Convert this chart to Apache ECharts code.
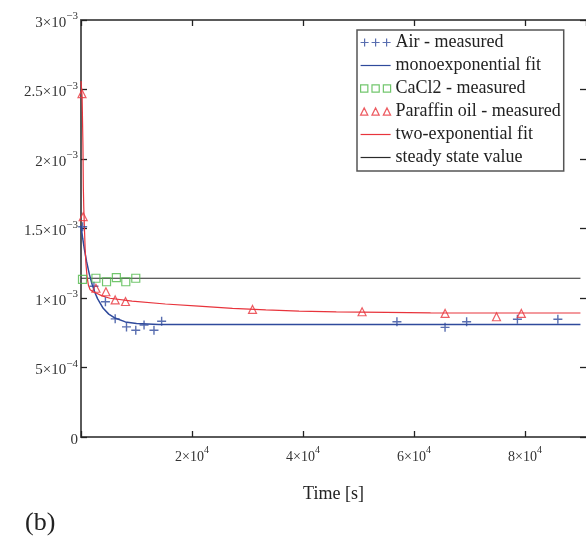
<!DOCTYPE html>
<html>
<head>
<meta charset="utf-8">
<script src="https://cdn.jsdelivr.net/npm/echarts@6/dist/echarts.min.js"></script>
<style>html,body{margin:0;padding:0;background:#fff;}#c{width:586px;height:537px;}</style>
</head>
<body>
<div id="c"></div>
<script>
// ---- data ----
const airT = [300, 2330, 4400, 6160, 8200, 9870, 11360, 13150, 14530, 56930, 65600, 69490, 78640, 85930];
const airV = [1.513e-3, 1.085e-3, 0.973e-3, 0.850e-3, 0.792e-3, 0.768e-3, 0.806e-3, 0.768e-3, 0.833e-3, 0.829e-3, 0.789e-3, 0.829e-3, 0.847e-3, 0.847e-3];

const monoT = [0, 300, 600, 1000, 1500, 2000, 2500, 3000, 4000, 5000, 6000, 8000, 10000, 14000, 20000, 90000];
const monoV = [1.52e-3, 1.43e-3, 1.353e-3, 1.263e-3, 1.172e-3, 1.099e-3, 1.04e-3, 0.994e-3, 0.926e-3, 0.884e-3, 0.858e-3, 0.828e-3, 0.816e-3, 0.810e-3, 0.809e-3, 0.809e-3];

const cacl2T = [270, 2690, 4600, 6370, 8070, 9870];
const cacl2V = [1.134e-3, 1.142e-3, 1.117e-3, 1.146e-3, 1.117e-3, 1.142e-3];

const paraT = [180, 400, 2690, 4490, 6160, 8020, 30910, 50650, 65610, 74870, 79350];
const paraV = [2.47e-3, 1.585e-3, 1.07e-3, 1.045e-3, 0.986e-3, 0.975e-3, 0.918e-3, 0.901e-3, 0.889e-3, 0.865e-3, 0.889e-3];

const twoT = [0, 200, 350, 420, 500, 620, 750, 900, 1100, 1350, 1650, 2200, 2800, 3800, 5200, 9200, 15200, 21200, 27300, 33300, 39300, 46000, 55000, 63000, 90000];
const twoV = [2.56e-3, 2.45e-3, 2.1e-3, 1.8e-3, 1.65e-3, 1.5e-3, 1.35e-3, 1.24e-3, 1.15e-3, 1.09e-3, 1.06e-3, 1.045e-3, 1.034e-3, 1.015e-3, 0.998e-3, 0.978e-3, 0.957e-3, 0.942e-3, 0.926e-3, 0.914e-3, 0.906e-3, 0.900e-3, 0.896e-3, 0.893e-3, 0.892e-3];

const steadyT = [0, 90000];
const steadyV = [1.142e-3, 1.142e-3];

const seriesNames = ['Air - measured', 'monoexponential fit', 'CaCl2 - measured', 'Paraffin oil - measured', 'two-exponential fit', 'steady state value'];
const xTitle = 'Time [s]';
const panelLabel = '(b)';

// ---- helpers ----
const zip = (a, b) => a.map((t, i) => [t, b[i]]);
const SERIF = 'Liberation Serif';
const BLUE = '#2f4a9c', RED = '#e8343c', GREEN = '#4fb848', BLACK = '#2a2a2a';

function sci(v, allowZero) {
  if (v === 0) return allowZero ? '{b|0}' : '';
  const e = Math.floor(Math.log10(v) + 1e-9);
  const m = +(v / Math.pow(10, e)).toFixed(2);
  const es = e < 0 ? '\u2212' + (-e) : String(e);
  return '{b|' + m + '\u00d710}{s|' + es + '}';
}

const chart = echarts.init(document.getElementById('c'), null, {renderer: 'canvas'});

const frameLine = {show: true, onZero: false, lineStyle: {color: '#5a5a5a', width: 2}};
const tickIn = {show: true, inside: true, length: 6, lineStyle: {color: '#222', width: 1.3}};

const option = {
  animation: false,
  backgroundColor: '#fff',
  title: {
    text: panelLabel, left: 20, top: 505,
    textStyle: {fontFamily: SERIF, fontSize: 26, fontWeight: 'normal', color: '#222'}
  },
  grid: {left: 81, top: 20, right: -2, bottom: 100},
  legend: {
    orient: 'vertical', left: 357, top: 30,
    padding: [1, 3, 2, 3],
    backgroundColor: '#fff', borderColor: '#555', borderWidth: 1.5, borderRadius: 0,
    itemWidth: 30, itemHeight: 10, itemGap: 0,
    textStyle: {fontFamily: SERIF, fontSize: 18, color: '#222', lineHeight: 23},
    data: [
      {name: seriesNames[0], icon: 'path://M0,5L8,5M4,1L4,9M11,5L19,5M15,1L15,9M22,5L30,5M26,1L26,9',
        itemStyle: {color: 'rgba(0,0,0,0)', borderColor: BLUE, borderWidth: 1.2}},
      {name: seriesNames[1], icon: 'path://M0,0h30v1.2h-30z', itemStyle: {color: BLUE, borderWidth: 0}},
      {name: seriesNames[2], icon: 'path://M1,2h7v7h-7zM12,2h7v7h-7zM23,2h7v7h-7z',
        itemStyle: {color: 'rgba(0,0,0,0)', borderColor: GREEN, borderWidth: 1.2}},
      {name: seriesNames[3], icon: 'path://M1,9L4.5,2L8,9zM12,9L15.5,2L19,9zM23,9L26.5,2L30,9z',
        itemStyle: {color: 'rgba(0,0,0,0)', borderColor: RED, borderWidth: 1.2}},
      {name: seriesNames[4], icon: 'path://M0,0h30v1.2h-30z', itemStyle: {color: RED, borderWidth: 0}},
      {name: seriesNames[5], icon: 'path://M0,0h30v1.2h-30z', itemStyle: {color: BLACK, borderWidth: 0}}
    ]
  },
  xAxis: [
    {
      type: 'value', position: 'bottom', min: 0, max: 91000, interval: 20000,
      axisLine: frameLine, axisTick: tickIn, splitLine: {show: false},
      name: xTitle, nameLocation: 'middle', nameGap: 48,
      nameTextStyle: {fontFamily: SERIF, fontSize: 18, color: '#222'},
      axisLabel: {
        margin: 8, showMaxLabel: false,
        formatter: v => sci(v, false),
        rich: {
          b: {fontFamily: SERIF, fontSize: 14, color: '#333', lineHeight: 24},
          s: {fontFamily: SERIF, fontSize: 10, color: '#333', lineHeight: 10, verticalAlign: 'top'}
        }
      }
    },
    {
      type: 'value', position: 'top', min: 0, max: 91000, interval: 20000,
      axisLine: frameLine, axisTick: tickIn, axisLabel: {show: false}, splitLine: {show: false}
    }
  ],
  yAxis: [
    {
      type: 'value', position: 'left', min: 0, max: 3e-3, interval: 5e-4,
      axisLine: frameLine, axisTick: tickIn, splitLine: {show: false},
      axisLabel: {
        margin: 3, padding: [6, 0, 0, 0],
        formatter: v => sci(v, true),
        rich: {
          b: {fontFamily: SERIF, fontSize: 15, color: '#333', lineHeight: 24},
          s: {fontFamily: SERIF, fontSize: 11, color: '#333', lineHeight: 10, verticalAlign: 'top'}
        }
      }
    },
    {
      type: 'value', position: 'right', min: 0, max: 3e-3, interval: 5e-4,
      axisLine: {show: false, onZero: false}, axisTick: tickIn, axisLabel: {show: false}, splitLine: {show: false}
    }
  ],
  series: [
    {
      name: seriesNames[0], type: 'scatter', data: zip(airT, airV),
      symbol: 'path://M0,5L10,5M5,0L5,10', symbolSize: 9,
      itemStyle: {color: 'rgba(0,0,0,0)', borderColor: BLUE, borderWidth: 1.4}, z: 4
    },
    {
      name: seriesNames[1], type: 'line', data: zip(monoT, monoV), symbol: 'none', smooth: false,
      lineStyle: {color: BLUE, width: 1.5}, itemStyle: {color: BLUE}, z: 3
    },
    {
      name: seriesNames[2], type: 'scatter', data: zip(cacl2T, cacl2V),
      symbol: 'rect', symbolSize: 8,
      itemStyle: {color: 'rgba(0,0,0,0)', borderColor: GREEN, borderWidth: 1.2}, z: 4
    },
    {
      name: seriesNames[3], type: 'scatter', data: zip(paraT, paraV),
      symbol: 'triangle', symbolSize: 8,
      itemStyle: {color: 'rgba(0,0,0,0)', borderColor: RED, borderWidth: 1.2}, z: 4
    },
    {
      name: seriesNames[4], type: 'line', data: zip(twoT, twoV), symbol: 'none',
      lineStyle: {color: RED, width: 1.2}, itemStyle: {color: RED}, z: 3
    },
    {
      name: seriesNames[5], type: 'line', data: zip(steadyT, steadyV), symbol: 'none',
      lineStyle: {color: BLACK, width: 1.2}, itemStyle: {color: BLACK}, z: 2
    }
  ]
};
chart.setOption(option);
</script>
</body>
</html>
